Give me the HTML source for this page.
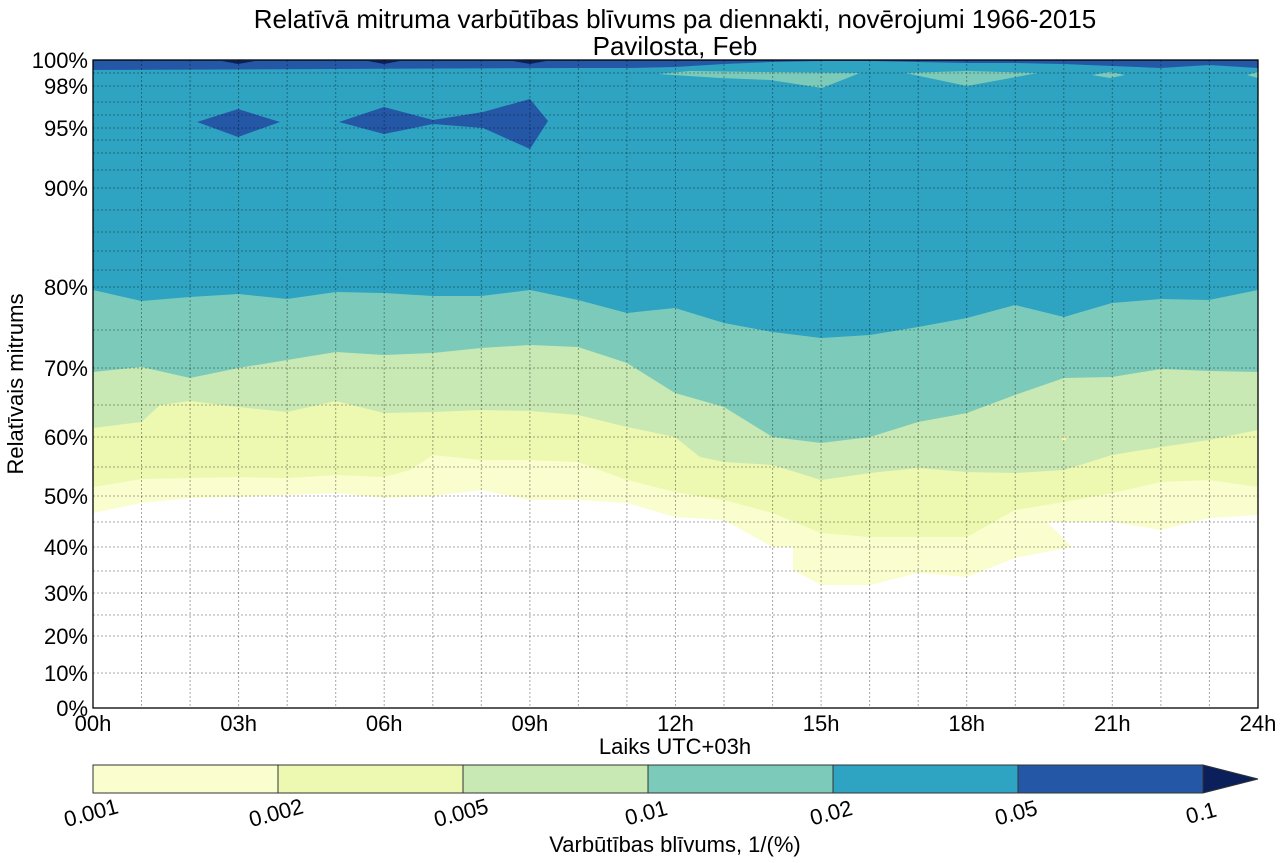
<!DOCTYPE html>
<html><head><meta charset="utf-8"><style>
html,body{margin:0;padding:0;background:#fff;}
svg{display:block;font-family:"Liberation Sans",Arial,sans-serif;}
</style></head><body>
<svg width="1284" height="863" viewBox="0 0 1284 863" xmlns="http://www.w3.org/2000/svg">
<defs><clipPath id="pc"><rect x="93" y="60" width="1165" height="648"/></clipPath></defs>
<rect width="1284" height="863" fill="#fff"/>
<g clip-path="url(#pc)">
<polygon fill="#fafdcd" points="93,513 141.5,503 190,498 238.6,497 287,495 336,493 384,498 433,496 481,490 530,500 578,500 627,503 675,517 724,520 772.6,547 793,547 793,570 821,585 870,585 918,573 967,577 1015,558 1072,547 1047,522 1112,522 1161,530 1209,518 1258,515 1258,60 93,60"/>
<polygon fill="#edf8b1" points="93,487 141.5,479 190,478 238.6,477 287,478 336,475 384,477 410,470 433,455 481,460 530,460 578,462 627,480 675,492 724,500 772.6,513 821,533 870,537 918,537 967,537 1015,510 1064,502 1112,493 1161,482 1209,480 1258,487 1258,60 93,60"/>
<polygon fill="#c8e9b4" points="93,428 141.5,422 160,405 190,401 238.6,407 287,412 336,401 384,413 433,412 481,410 530,411 578,415 627,427 675,437 700,457 724,462 772.6,465 821,480 870,473 918,468 967,472 1015,473 1064,470 1112,455 1161,447 1209,440 1258,430 1258,60 93,60"/>
<polygon fill="#edf8b1" points="1060,436 1068,436 1064,443"/>
<polygon fill="#7ccbba" points="93,372 141.5,367 190,378 238.6,368 287,360 336,352 384,355 433,353 481,348 530,345 578,347 627,363 675,393 724,407 772.6,437 821,443 870,437 918,422 967,413 1015,395 1064,378 1112,377 1161,369 1209,371 1258,372 1258,60 93,60"/>
<polygon fill="#2ea3c2" points="93,290 141.5,301 190,297 238.6,294 287,299 336,292 384,293 433,296 481,296 530,290 578,300 627,313 675,308 724,323 772.6,332 821,338 870,335 918,327 967,318 1015,305 1064,317 1112,303 1161,299 1209,300 1258,290 1258,60 93,60"/>
<polygon fill="#7ccbba" points="658,74 690,71 760,72 860,73 822,88 770,80 720,78"/>
<polygon fill="#7ccbba" points="905,73 967,71 1038,73 967,86"/>
<polygon fill="#7ccbba" points="1092,75 1110,72 1125,75 1110,78"/>
<polygon fill="#7ccbba" points="1247,75 1258,72 1258,78"/>
<polygon fill="#2458a6" points="93,60 1258,60 1258,68 1209,65 1161,68 1112,66 1064,64 1015,63 967,63 918,62 870,61 821,61 772,62 724,64 675,67 627,68 578,68 93,70"/>
<polygon fill="#0b1f5a" points="222,61 255,61 238,64"/>
<polygon fill="#0b1f5a" points="368,61 400,61 384,64"/>
<polygon fill="#0b1f5a" points="513,61 546,61 530,64"/>
<polygon fill="#2458a6" points="197,122 238,109 280,122 238,137"/>
<polygon fill="#2458a6" points="339,122 384,107 433,120 483,112 530,99 548,121 530,149 483,128 433,124 384,134"/>
</g>
<g stroke="#000" stroke-opacity="0.35" stroke-width="1" stroke-dasharray="2,2" fill="none">
<path d="M141.5,60V708M190.1,60V708M238.6,60V708M287.2,60V708M335.7,60V708M384.2,60V708M432.8,60V708M481.3,60V708M529.9,60V708M578.4,60V708M626.9,60V708M675.5,60V708M724,60V708M772.6,60V708M821.1,60V708M869.6,60V708M918.2,60V708M966.7,60V708M1015.3,60V708M1063.8,60V708M1112.3,60V708M1160.9,60V708M1209.4,60V708"/>
<path d="M93,673H1258M93,636H1258M93,615H1258M93,593H1258M93,571H1258M93,547H1258M93,522H1258M93,496H1258M93,467H1258M93,437H1258M93,405H1258M93,368H1258M93,330H1258M93,287H1258M93,270H1258M93,251H1258M93,232H1258M93,210H1258M93,188H1258M93,170H1258M93,153H1258M93,140H1258M93,128H1258M93,115H1258M93,102H1258M93,86H1258M93,73H1258"/>
</g>
<rect x="93" y="60" width="1165" height="648" fill="none" stroke="#000" stroke-width="1.3"/>
<g font-size="22" fill="#000" text-anchor="end">
<text x="88" y="68">100%</text><text x="88" y="94">98%</text><text x="88" y="136">95%</text>
<text x="88" y="196">90%</text><text x="88" y="295">80%</text><text x="88" y="376">70%</text>
<text x="88" y="445">60%</text><text x="88" y="504">50%</text><text x="88" y="555">40%</text>
<text x="88" y="601">30%</text><text x="88" y="644">20%</text><text x="88" y="681">10%</text>
<text x="88" y="716">0%</text>
</g>
<g font-size="22" fill="#000" text-anchor="middle">
<text x="93" y="731">00h</text><text x="238.6" y="731">03h</text><text x="384.2" y="731">06h</text>
<text x="529.9" y="731">09h</text><text x="675.5" y="731">12h</text><text x="821.1" y="731">15h</text>
<text x="966.7" y="731">18h</text><text x="1112.3" y="731">21h</text><text x="1258" y="731">24h</text>
<text x="675" y="754">Laiks UTC+03h</text>
<text x="675" y="28" font-size="26">Relatīvā mitruma varbūtības blīvums pa diennakti, novērojumi 1966-2015</text>
<text x="675" y="55" font-size="26">Pavilosta, Feb</text>
<text x="675" y="852">Varbūtības blīvums, 1/(%)</text>
<text transform="translate(23,384) rotate(-90)">Relatīvais mitrums</text>
</g>
<g stroke="#333" stroke-width="1">
<rect x="93" y="765" width="185" height="28" fill="#fafdcd"/>
<rect x="278" y="765" width="185" height="28" fill="#edf8b1"/>
<rect x="463" y="765" width="185" height="28" fill="#c8e9b4"/>
<rect x="648" y="765" width="185" height="28" fill="#7ccbba"/>
<rect x="833" y="765" width="185" height="28" fill="#2ea3c2"/>
<rect x="1018" y="765" width="185" height="28" fill="#2458a6"/>
<polygon points="1203,765 1258,779 1203,793" fill="#0b1f5a"/>
</g>
<g font-size="22" fill="#000" text-anchor="middle">
<text transform="translate(93,820) rotate(-15)">0.001</text>
<text transform="translate(278,820) rotate(-15)">0.002</text>
<text transform="translate(463,820) rotate(-15)">0.005</text>
<text transform="translate(648,820) rotate(-15)">0.01</text>
<text transform="translate(833,820) rotate(-15)">0.02</text>
<text transform="translate(1018,820) rotate(-15)">0.05</text>
<text transform="translate(1203,820) rotate(-15)">0.1</text>
</g>
</svg>
</body></html>
